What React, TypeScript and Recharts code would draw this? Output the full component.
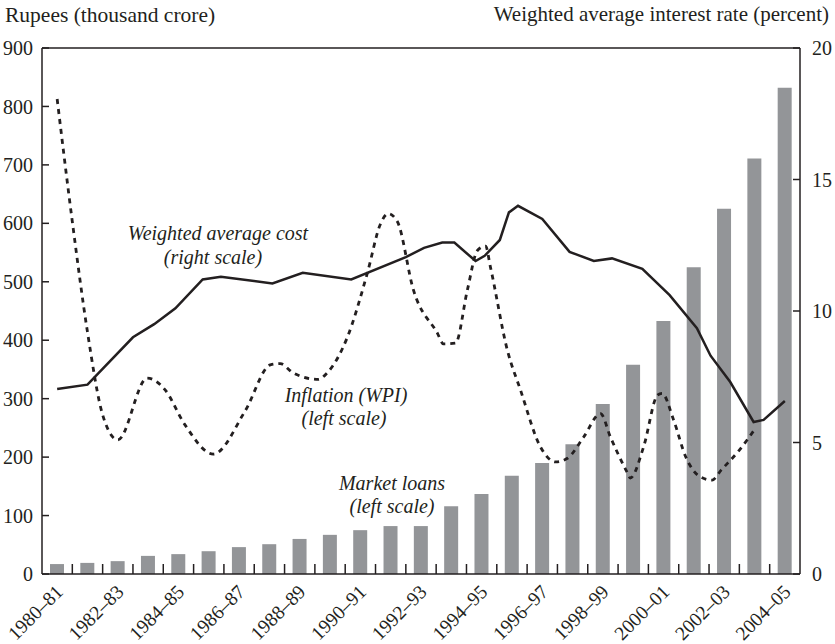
import {
  ComposedChart,
  Bar,
  Line,
  XAxis,
  YAxis,
  ReferenceLine,
} from "recharts";

const years = [
  "1980–81", "1981–82", "1982–83", "1983–84", "1984–85", "1985–86", "1986–87",
  "1987–88", "1988–89", "1989–90", "1990–91", "1991–92", "1992–93", "1993–94",
  "1994–95", "1995–96", "1996–97", "1997–98", "1998–99", "1999–00", "2000–01",
  "2001–02", "2002–03", "2003–04", "2004–05",
];

// market loans, rupees thousand crore (left scale)
const marketLoans = [
  17, 19, 22, 31, 34, 39, 46, 51, 60, 67, 75, 82, 82, 116, 137, 168, 190, 222,
  291, 358, 433, 525, 625, 711, 832,
];

// weighted average cost, percent (right scale); x = position in years from 1980-81
const costX = [
  0, 1, 2.5, 3.2, 3.9, 4.8, 5.4, 7.1, 8.1, 9.7, 11.5, 12.1, 12.7, 13.1, 13.8,
  14.1, 14.6, 14.9, 15.2, 16.0, 16.9, 17.7, 18.3, 19.3, 20.2, 21.1, 21.55, 22.2,
  22.97, 23.3, 24,
];
const costY = [
  7.03, 7.2, 9.0, 9.5, 10.1, 11.2, 11.3, 11.05, 11.45, 11.2, 12.05, 12.4, 12.6,
  12.6, 11.9, 12.1, 12.7, 13.75, 14.0, 13.5, 12.25, 11.9, 12.0, 11.6, 10.6,
  9.35, 8.3, 7.3, 5.78, 5.86, 6.58,
];

// inflation (WPI), percent
const wpiX = [
  0, 0.5, 1, 1.5, 2, 2.97, 3.56, 4.2, 5.15, 6.2, 7.03, 7.36, 7.79, 8.61, 8.9,
  9.57, 10.23, 10.66, 10.92, 11.22, 11.75, 12.54, 12.74, 13.14, 13.53, 13.86,
  14.13, 14.29, 14.85, 15.28, 15.94, 16.44, 16.83, 17.36, 17.92, 18.25, 18.81,
  18.9, 19.34, 19.8, 19.95, 20.33, 20.73, 21.2, 21.6, 21.9, 22.5, 23.03,
];
const wpiY = [
  18.06, 13.4, 9.2, 6.05, 5.1, 7.45, 7.0, 5.7, 4.56, 6.2, 7.95, 8.0, 7.64, 7.4,
  7.64, 9.0, 11.44, 13.3, 13.7, 13.4, 10.8, 9.16, 8.75, 8.78, 10.8, 12.3, 12.47,
  11.67, 8.5, 7.0, 4.83, 4.26, 4.4, 5.2, 6.1, 5.2, 3.84, 3.65, 4.83, 6.8, 6.87,
  5.86, 4.46, 3.7, 3.57, 3.95, 4.71, 5.54,
];

const leftTicks = [0, 100, 200, 300, 400, 500, 600, 700, 800, 900];
const rightTicks = [0, 5, 10, 15, 20];
// year positions plus the band boundaries between them (half steps)
const xTicks = years.flatMap((_, i) => (i === 0 ? [0] : [i - 0.5, i]));

const barData = years.map((year, i) => ({ year, loans: marketLoans[i] }));
const costData = costX.map((x, i) => ({ x, v: costY[i] }));
const wpiData = wpiX.map((x, i) => ({ x, v: wpiY[i] }));

const INK = "#231f20";
const FONT = "'Liberation Serif', 'DejaVu Serif', serif";
const C45 = Math.SQRT1_2;

// labels every other year; short inward marks on the band boundaries
const YearTick = (props: any) => {
  const { x, y, payload } = props;
  const v = payload.value as number;
  if (!Number.isInteger(v)) {
    return <line x1={x} x2={x} y1={y} y2={y - 10} stroke={INK} strokeWidth={1.5} />;
  }
  if (v % 2 !== 0) return <g />;
  const ax = x + 7;
  const ay = y + 19;
  return (
    <text
      transform={`matrix(${C45},${-C45},${C45},${C45},${ax},${ay})`}
      textAnchor="end"
      fontFamily={FONT}
      fontSize={19.5}
      fill={INK}
    >
      {years[v]}
    </text>
  );
};

export default function App() {
  return (
    <div style={{ position: "absolute", left: 0, top: 0, background: "#fff" }}>
      <ComposedChart
        width={835}
        height={644}
        data={barData}
        margin={{ top: 48, right: 0, bottom: 0, left: 0 }}
      >
        <XAxis xAxisId="cat" dataKey="year" hide height={0} />
        <XAxis
          xAxisId="num"
          type="number"
          dataKey="x"
          domain={[-0.5, 24.5]}
          allowDataOverflow
          ticks={xTicks}
          interval={0}
          tick={YearTick}
          tickLine={false}
          tickSize={0}
          tickMargin={0}
          axisLine={{ stroke: INK, strokeWidth: 1.5 }}
          height={70}
        />
        <YAxis
          yAxisId="left"
          domain={[0, 900]}
          ticks={leftTicks}
          width={42}
          tickSize={-7}
          tickMargin={16}
          axisLine={{ stroke: INK, strokeWidth: 1.5 }}
          tickLine={{ stroke: INK, strokeWidth: 1.5 }}
          tick={{ fill: INK, fontSize: 20, fontFamily: FONT }}
        />
        <YAxis
          yAxisId="right"
          orientation="right"
          domain={[0, 20]}
          ticks={rightTicks}
          width={35}
          tickSize={-7}
          tickMargin={19}
          axisLine={{ stroke: INK, strokeWidth: 1.5 }}
          tickLine={{ stroke: INK, strokeWidth: 1.5 }}
          tick={{ fill: INK, fontSize: 20, fontFamily: FONT, textAnchor: "start" }}
        />
        <ReferenceLine
          xAxisId="cat"
          yAxisId="left"
          y={900}
          stroke={INK}
          strokeWidth={1.5}
        />
        <Bar
          xAxisId="cat"
          yAxisId="left"
          dataKey="loans"
          fill="#939598"
          barSize={14}
          isAnimationActive={false}
        />
        <Line
          xAxisId="num"
          yAxisId="right"
          data={wpiData}
          dataKey="v"
          type="monotone"
          stroke={INK}
          strokeWidth={2.8}
          strokeDasharray="5 5"
          dot={false}
          activeDot={false}
          isAnimationActive={false}
        />
        <Line
          xAxisId="num"
          yAxisId="right"
          data={costData}
          dataKey="v"
          type="linear"
          stroke={INK}
          strokeWidth={2.5}
          dot={false}
          activeDot={false}
          isAnimationActive={false}
        />
        <g fontFamily={FONT} fill={INK}>
          <text x={5} y={22} fontSize={21.5}>
            Rupees (thousand crore)
          </text>
          <text x={829} y={21} fontSize={21} textAnchor="end">
            Weighted average interest rate (percent)
          </text>
          <g fontStyle="italic" fontSize={20} textAnchor="middle">
            <text x={218} y={240}>Weighted average cost</text>
            <text x={213} y={264}>(right scale)</text>
            <text x={346} y={402}>Inflation (WPI)</text>
            <text x={344} y={425}>(left scale)</text>
            <text x={392} y={490}>Market loans</text>
            <text x={392} y={513}>(left scale)</text>
          </g>
        </g>
      </ComposedChart>
    </div>
  );
}
